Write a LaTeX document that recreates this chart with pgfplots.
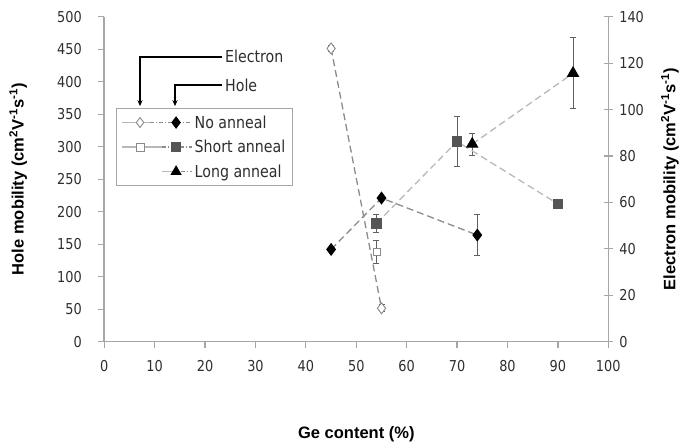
\documentclass[border=0pt]{standalone}
\usepackage{fontspec}
\usepackage{pgfplots}
\pgfplotsset{compat=1.18}
\usetikzlibrary{arrows.meta}
\setmainfont{Liberation Sans}
\newfontfamily\tickfont{DejaVu Sans}[FakeStretch=0.86]
\newfontfamily\labfont{Liberation Sans}

\definecolor{axgray}{HTML}{A6A6A6}
\definecolor{txtgray}{HTML}{2E2E2E}
\definecolor{sqgray}{HTML}{555555}
\definecolor{lgray}{HTML}{B8B8B8}
\definecolor{mgray}{HTML}{8C8C8C}
\definecolor{ogray}{HTML}{8A8A8A}
\definecolor{errgray}{HTML}{606060}

\pgfplotsset{
  common/.style={scale only axis, width=504pt, height=325pt, xmin=0, xmax=100,
    axis line style={draw=axgray, line width=1.6pt},
    tick style={draw=axgray, line width=1.2pt},
    ticklabel style={font=\tickfont\fontsize{15}{15}\selectfont, text=txtgray},
    /pgf/number format/assume math mode=true,
    label style={font=\labfont\fontsize{16.5}{18}\selectfont\bfseries, text=black},
  },
  dashline/.style={line width=1.3pt, dash pattern=on 7pt off 4pt},
  errs/.style={draw=none, mark=none, forget plot, error bars/.cd, y dir=both, y explicit,
    error bar style={draw=errgray, line width=1pt, solid},
    error mark options={rotate=90, draw=errgray, mark size=3pt, line width=1pt}},
}

\begin{document}
\begin{tikzpicture}[x=1pt,y=1pt]
\path[use as bounding box] (-104.3,-101.3) rectangle (576.7,341.7);

% hole mobility, left axis
\begin{axis}[common, ymin=0, ymax=500,
  axis x line*=bottom, axis y line*=left,
  xtick={0,10,...,100}, ytick={0,50,...,500},
  tick align=outside, major tick length=6pt,
  yticklabel style={xshift=-13pt},
  xticklabel style={yshift=-9pt},
  xlabel={Ge content (\%)},
  ylabel={Hole mobility (cm\textsuperscript{2}V\textsuperscript{-1}s\textsuperscript{-1})},
  xlabel style={at={(axis description cs:0.5,-0.284)}, anchor=center},
  ylabel style={at={(axis description cs:-0.171,0.5)}, anchor=center},
  legend style={at={(axis cs:2.32,359.5)}, anchor=north west, draw=axgray, line width=1pt,
    fill=white, font=\tickfont\fontsize{16.5}{17}\selectfont, text=txtgray,
    row sep=6.5pt, inner xsep=5pt, inner ysep=5pt},
  legend cell align=left,
]
\addlegendimage{legend image code/.code={
  \draw[lgray, line width=1.2pt] (0pt,0pt) -- (28pt,0pt);
  \draw[mgray, line width=1.2pt, dash pattern=on 4pt off 2pt on 1pt off 2pt] (28pt,0pt) -- (70pt,0pt);
  \path plot[only marks, mark=diamond*, mark size=5pt, mark options={draw=ogray, fill=white, line width=0.9pt}] coordinates {(18pt,0pt)};
  \path plot[only marks, mark=diamond*, mark size=5.5pt, mark options={draw=black, fill=black}] coordinates {(54pt,0pt)};
}}
\addlegendentry{No anneal}
\addlegendimage{legend image code/.code={
  \draw[lgray, line width=1.2pt] (0pt,0pt) -- (40pt,0pt);
  \draw[mgray, line width=1.2pt, dash pattern=on 4pt off 2pt on 1pt off 2pt] (40pt,0pt) -- (70pt,0pt);
  \path plot[only marks, mark=square*, mark size=4pt, mark options={draw=ogray, fill=white, line width=0.9pt}] coordinates {(18pt,0pt)};
  \path plot[only marks, mark=square*, mark size=4.5pt, mark options={draw=sqgray, fill=sqgray}] coordinates {(54pt,0pt)};
}}
\addlegendentry{Short anneal}
\addlegendimage{legend image code/.code={
  \draw[lgray, line width=1.2pt] (40pt,0pt) -- (50pt,0pt);
  \draw[mgray, line width=1.2pt, dash pattern=on 4pt off 2pt on 1pt off 2pt] (50pt,0pt) -- (70pt,0pt);
  \path plot[only marks, mark=triangle*, mark size=5.5pt, mark options={draw=black, fill=black}] coordinates {(54pt,0pt)};
}}
\addlegendentry{Long anneal}

\addplot[errs] coordinates {(54,182) +- (0,14) (74,164) +- (0,32) (70,308) +- (0,38) (73,304) +- (0,17) (93,413) +- (0,55)};
\addplot[lgray, dashline, mark=square*, mark size=4.5pt, mark options={solid, draw=sqgray, fill=sqgray}, forget plot]
  coordinates {(54,182) (70,308) (90,212)};
\addplot[lgray, dashline, mark=triangle*, mark size=6pt, mark options={solid, draw=black, fill=black}, forget plot]
  coordinates {(73,304) (93,413)};
\addplot[mgray, dashline, mark=diamond*, mark size=5.5pt, mark options={solid, draw=black, fill=black}, forget plot]
  coordinates {(45,142) (55,221) (74,164)};
\end{axis}

% electron mobility, right axis
\begin{axis}[common, ymin=0, ymax=140,
  axis x line=none, axis y line*=right,
  ytick={0,20,...,140}, tick align=center, major tick length=9pt,
  yticklabel style={xshift=3pt},
  ylabel={Electron mobility (cm\textsuperscript{2}V\textsuperscript{-1}s\textsuperscript{-1})},
  ylabel style={at={(axis description cs:1.1224,0.5)}, anchor=center},
]
\addplot[errs] coordinates {(45,126.3) +- (0,1.5) (55,14.4) +- (0,1.5) (54,38.8) +- (0,5)};
\addplot[mgray, dashline, mark=diamond*, mark size=5.5pt, mark options={solid, draw=ogray, fill=white, line width=0.9pt}]
  coordinates {(45,126.3) (55,14.4)};
\addplot[only marks, mark=square*, mark size=3.5pt, mark options={draw=ogray, fill=white, line width=0.9pt}]
  coordinates {(54,38.8)};
\end{axis}

% legend annotations
\draw[black, line width=2pt, -{Stealth[length=6pt,width=5pt]}] (118,285) -- (35.7,285) -- (35.7,235.5);
\draw[black, line width=2pt, -{Stealth[length=6pt,width=5pt]}] (118,256.7) -- (70.7,256.7) -- (70.7,235.5);
\node[anchor=west, inner sep=0pt, font=\tickfont\fontsize{16.5}{17}\selectfont, text=txtgray] at (120.7,285) {Electron};
\node[anchor=west, inner sep=0pt, font=\tickfont\fontsize{16.5}{17}\selectfont, text=txtgray] at (120.7,256.7) {Hole};
\end{tikzpicture}
\end{document}
